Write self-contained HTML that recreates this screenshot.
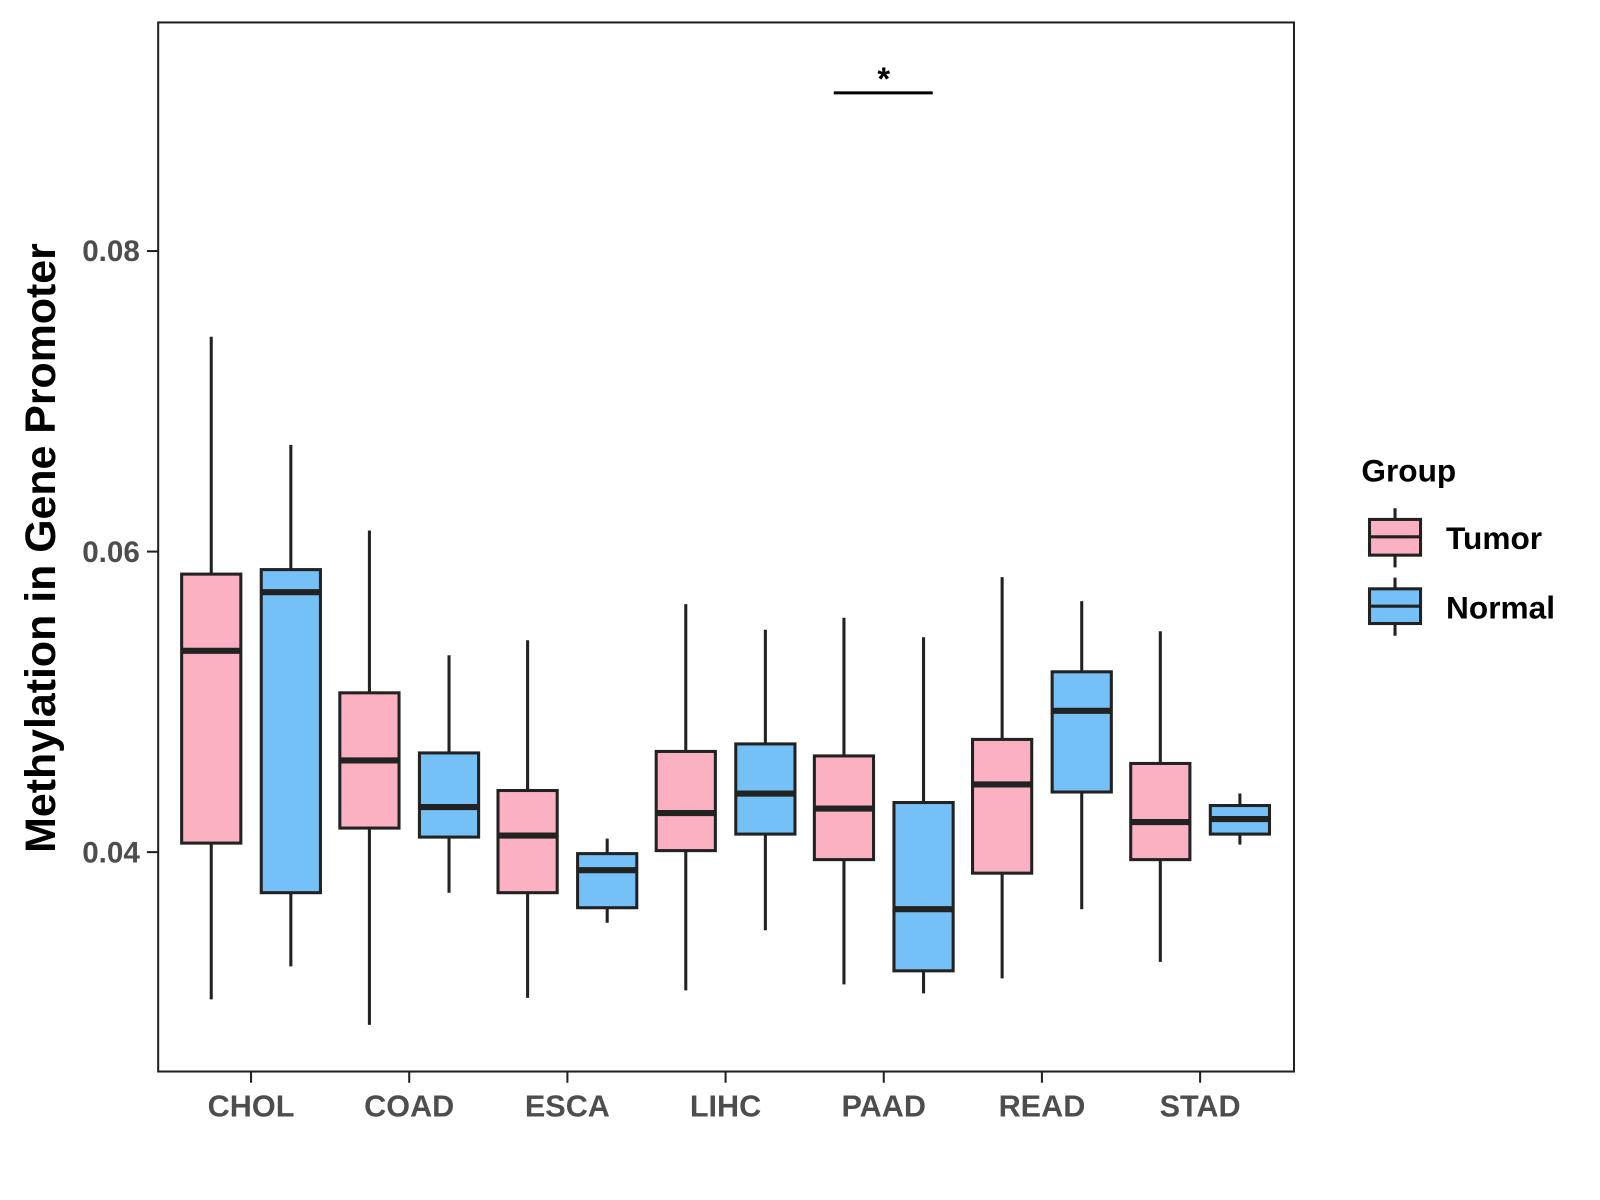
<!DOCTYPE html>
<html><head><meta charset="utf-8"><style>
html,body{margin:0;padding:0;background:#fff;}
svg{display:block;font-family:"Liberation Sans",Arial,sans-serif;}
</style></head><body>
<svg id="chart" width="1600" height="1200" viewBox="0 0 1600 1200">
<g transform="scale(1.0205)">
<rect x="155" y="22" width="1113" height="1028" fill="#fff" stroke="#222" stroke-width="2"/>
<g id="marks"></g>
<g id="axes"></g>
<text x="0" y="0" transform="translate(54,537) rotate(-90)" text-anchor="middle" font-size="42" font-weight="bold" fill="#000">Methylation in Gene Promoter</text>
<g>
<line x1="817" y1="91" x2="914" y2="91" stroke="#000" stroke-width="3"/>
<text x="866" y="88" text-anchor="middle" font-size="32" font-weight="bold">*</text>
</g>
<g>
<text x="1334" y="472" font-size="31" font-weight="bold">Group</text>
<g>
<line x1="1367" y1="498" x2="1367" y2="556" stroke="#222" stroke-width="3"/>
<rect x="1342" y="509" width="50" height="35" fill="#FBB1C2" stroke="#222" stroke-width="3"/>
<line x1="1342" y1="526" x2="1392" y2="526" stroke="#222" stroke-width="3"/>
<text x="1417" y="538" font-size="31" font-weight="bold">Tumor</text>
</g>
<g>
<line x1="1367" y1="566" x2="1367" y2="623" stroke="#222" stroke-width="3"/>
<rect x="1342" y="577" width="50" height="34" fill="#75C1F7" stroke="#222" stroke-width="3"/>
<line x1="1342" y1="594" x2="1392" y2="594" stroke="#222" stroke-width="3"/>
<text x="1417" y="606" font-size="31" font-weight="bold">Normal</text>
</g>
</g>
</g>
</svg>
<script>
const categories = ["CHOL","COAD","ESCA","LIHC","PAAD","READ","STAD"];
// [whiskerHigh, q3, median, q1, whiskerLow]
const tumorStats = [
 [0.0743,0.0585,0.0534,0.0406,0.0302],
 [0.0614,0.0506,0.0461,0.0416,0.0285],
 [0.0541,0.0441,0.0411,0.0373,0.0303],
 [0.0565,0.0467,0.0426,0.0401,0.0308],
 [0.0556,0.0464,0.0429,0.0395,0.0312],
 [0.0583,0.0475,0.0445,0.0386,0.0316],
 [0.0547,0.0459,0.0420,0.0395,0.0327]
];
const normalStats = [
 [0.0671,0.0588,0.0573,0.0373,0.0324],
 [0.0531,0.0466,0.0430,0.0410,0.0373],
 [0.0409,0.0399,0.0388,0.0363,0.0353],
 [0.0548,0.0472,0.0439,0.0412,0.0348],
 [0.0543,0.0433,0.0362,0.0321,0.0306],
 [0.0567,0.0520,0.0494,0.0440,0.0362],
 [0.0439,0.0431,0.0422,0.0412,0.0405]
];
const yTicks = [0.04,0.06,0.08];
const yTickLabels = ["0.04","0.06","0.08"];

const NS="http://www.w3.org/2000/svg";
function yScale(v){return 835-(v-0.04)*14725;}
function xScale(i){return 246+i*155;}
function mk(tag,attrs,parent){const e=document.createElementNS(NS,tag);for(const k in attrs)e.setAttribute(k,attrs[k]);parent.appendChild(e);return e;}
const marks=document.getElementById('marks');
const axes=document.getElementById('axes');
function drawBox(s,cx,fill,name){
  const g=mk('g',{},marks);
  
  
  const hw=29;
  mk('line',{x1:cx,x2:cx,y1:yScale(s[0]),y2:yScale(s[4]),stroke:'#222','stroke-width':3},g);
  mk('rect',{x:cx-hw,y:yScale(s[1]),width:hw*2,height:yScale(s[3])-yScale(s[1]),fill:fill,stroke:'#222','stroke-width':3},g);
  mk('line',{x1:cx-hw,x2:cx+hw,y1:yScale(s[2]),y2:yScale(s[2]),stroke:'#222','stroke-width':6},g);
}
categories.forEach((c,i)=>{
  drawBox(tumorStats[i],xScale(i)-39,'#FBB1C2','box-tumor-'+c.toLowerCase());
  drawBox(normalStats[i],xScale(i)+39,'#75C1F7','box-normal-'+c.toLowerCase());
  const t=mk('line',{x1:xScale(i),x2:xScale(i),y1:1050,y2:1061,stroke:'#222','stroke-width':2},axes);
  
  
  const l=mk('text',{x:xScale(i),y:1094,'text-anchor':'middle','font-size':30,'font-weight':'bold',fill:'#4d4d4d'},axes);
  l.textContent=c;
  
  
});
yTicks.forEach((v,i)=>{
  const t=mk('line',{x1:144,x2:155,y1:yScale(v),y2:yScale(v),stroke:'#222','stroke-width':2},axes);
  
  
  const l=mk('text',{x:137,y:yScale(v)+10,'text-anchor':'end','font-size':29,'font-weight':'bold',fill:'#4d4d4d'},axes);
  l.textContent=yTickLabels[i];
  
  
});
</script>
</body></html>
